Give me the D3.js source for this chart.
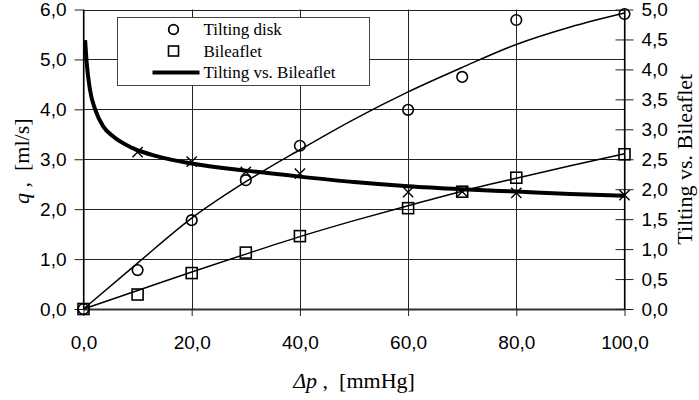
<!DOCTYPE html>
<html>
<head>
<meta charset="utf-8">
<script src="https://cdn.jsdelivr.net/npm/d3@7"></script>
<style>
  body { margin: 0; background: #fff; }
  svg { display: block; }
</style>
</head>
<body>
<script>
// measured points (delta p in mmHg, flow q in ml/s)
var pressure = [0, 10, 20, 30, 40, 60, 70, 80, 100];
var tiltingDisk = [0, 0.78, 1.78, 2.58, 3.27, 3.99, 4.65, 5.79, 5.91];
var bileaflet = [0, 0.29, 0.72, 1.13, 1.46, 2.02, 2.35, 2.63, 3.10];
var ratioP = [10, 20, 30, 40, 60, 70, 80, 100];
var ratio = [2.62, 2.46, 2.29, 2.26, 1.95, 1.96, 1.94, 1.90];

// trendlines
var fitP = [0, 10, 20, 30, 40, 50, 60, 70, 80, 90, 100];
var tiltingFit = [0, 0.92, 1.82, 2.55, 3.19, 3.80, 4.35, 4.84, 5.30, 5.65, 5.93];
var bileafletFit = [0, 0.37, 0.74, 1.10, 1.45, 1.77, 2.07, 2.36, 2.62, 2.87, 3.11];
var ratioFitP = [0.3, 0.6, 1.2, 2.2, 3.7, 5.5, 9, 14, 20, 30, 40, 50, 60, 70, 80, 90, 100];
var ratioFit = [4.49, 4.10, 3.66, 3.32, 3.04, 2.88, 2.69, 2.54, 2.43, 2.31, 2.21, 2.12, 2.05, 2.00, 1.96, 1.92, 1.89];

var xTicks = [0, 20, 40, 60, 80, 100];
var leftTicks = [0, 1, 2, 3, 4, 5, 6];
var rightTicks = [0, 0.5, 1, 1.5, 2, 2.5, 3, 3.5, 4, 4.5, 5];
var legendLabels = ["Tilting disk", "Bileaflet", "Tilting vs. Bileaflet"];

var width = 699, height = 400;

var x = d3.scaleLinear().domain([0, 100]).range([83.5, 624.5]);
var y = d3.scaleLinear().domain([0, 6]).range([309, 9.5]);
var y2 = d3.scaleLinear().domain([0, 5]).range([309, 9.5]);

var fmt = function(d) { return d3.format(".1f")(d).replace(".", ","); };

var svg = d3.select("body").append("svg")
    .attr("width", width)
    .attr("height", height);

// grid
svg.append("g").selectAll("line").data(leftTicks).join("line")
    .attr("x1", x(0)).attr("x2", x(100))
    .attr("y1", function(d) { return Math.round(y(d)) + 0.5; })
    .attr("y2", function(d) { return Math.round(y(d)) + 0.5; })
    .attr("stroke", "#222").attr("stroke-width", 1);
svg.append("g").selectAll("line").data(xTicks.slice(1, -1)).join("line")
    .attr("x1", function(d) { return Math.round(x(d)) + 0.5; })
    .attr("x2", function(d) { return Math.round(x(d)) + 0.5; })
    .attr("y1", y(0)).attr("y2", y(6))
    .attr("stroke", "#222").attr("stroke-width", 1);

// axes
var tickFont = "'Liberation Sans', Arial, sans-serif";

var gx = svg.append("g")
    .attr("transform", "translate(0," + y(0) + ")")
    .call(d3.axisBottom(x).tickValues(xTicks).tickFormat(fmt).tickSize(7).tickPadding(20).tickSizeOuter(0));
gx.select(".domain").attr("stroke", "#333").attr("stroke-width", 2);

var gl = svg.append("g")
    .attr("transform", "translate(" + x(0) + ",0)")
    .call(d3.axisLeft(y).tickValues(leftTicks).tickFormat(fmt).tickSize(9).tickPadding(8).tickSizeOuter(0));

var gr = svg.append("g")
    .attr("transform", "translate(" + x(100) + ",0)")
    .call(d3.axisRight(y2).tickValues(rightTicks).tickFormat(fmt).tickSize(9).tickPadding(8).tickSizeOuter(0));
gr.selectAll(".tick line").attr("x1", -9);

svg.selectAll(".tick text")
    .attr("font-family", tickFont)
    .attr("font-size", 19)
    .attr("fill", "#000");
svg.selectAll(".tick line").attr("stroke", "#222");

// series markers
var tiltPts = pressure.map(function(p, i) { return [p, tiltingDisk[i]]; });
var biPts = pressure.map(function(p, i) { return [p, bileaflet[i]]; });
var ratioPts = ratioP.map(function(p, i) { return [p, ratio[i]]; });

svg.append("g").selectAll("circle").data(tiltPts).join("circle")
    .attr("cx", function(d) { return x(d[0]); })
    .attr("cy", function(d) { return y(d[1]); })
    .attr("r", 5.3)
    .attr("fill", "none").attr("stroke", "#000").attr("stroke-width", 1.6);

svg.append("g").selectAll("rect").data(biPts).join("rect")
    .attr("x", function(d) { return x(d[0]) - 5.5; })
    .attr("y", function(d) { return y(d[1]) - 5.5; })
    .attr("width", 11).attr("height", 11)
    .attr("fill", "none").attr("stroke", "#000").attr("stroke-width", 1.6);

var cross = d3.symbol().type(d3.symbolX).size(70);
svg.append("g").selectAll("path").data(ratioPts).join("path")
    .attr("transform", function(d) { return "translate(" + x(d[0]) + "," + y2(d[1]) + ")"; })
    .attr("d", cross)
    .attr("fill", "none").attr("stroke", "#000").attr("stroke-width", 1.4);

// trendlines
var thinLine = function(sc) {
  return d3.line().curve(d3.curveMonotoneX)
      .x(function(d) { return x(d[0]); })
      .y(function(d) { return sc(d[1]); });
};

svg.append("path")
    .attr("d", thinLine(y)(fitP.map(function(p, i) { return [p, tiltingFit[i]]; })))
    .attr("fill", "none").attr("stroke", "#000").attr("stroke-width", 1.5);
svg.append("path")
    .attr("d", thinLine(y)(fitP.map(function(p, i) { return [p, bileafletFit[i]]; })))
    .attr("fill", "none").attr("stroke", "#000").attr("stroke-width", 1.5);
svg.append("path")
    .attr("d", thinLine(y2)(ratioFitP.map(function(p, i) { return [p, ratioFit[i]]; })))
    .attr("fill", "none").attr("stroke", "#000").attr("stroke-width", 4);

// axis lines on top
svg.append("line")
    .attr("x1", x(0)).attr("x2", x(0)).attr("y1", y(6)).attr("y2", y(0))
    .attr("stroke", "#000").attr("stroke-width", 1.2);
svg.append("line")
    .attr("x1", x(100)).attr("x2", x(100)).attr("y1", y(6)).attr("y2", y(0))
    .attr("stroke", "#000").attr("stroke-width", 1.2);

// titles
var serif = "'Liberation Serif', 'Times New Roman', serif";

var tx = svg.append("text")
    .attr("x", (x(0) + x(100)) / 2).attr("y", 388)
    .attr("text-anchor", "middle")
    .attr("font-family", serif).attr("font-size", 22)
    .style("white-space", "pre");
tx.append("tspan").attr("font-style", "italic").text("Δp");
tx.append("tspan").text(" ,  [mmHg]");

var tl = svg.append("text")
    .attr("transform", "translate(29," + (y(3) + 2) + ") rotate(-90)")
    .attr("text-anchor", "middle")
    .attr("font-family", serif).attr("font-size", 22)
    .style("white-space", "pre");
tl.append("tspan").attr("font-style", "italic").text("q");
tl.append("tspan").text(" ,  [ml/s]");

svg.append("text")
    .attr("transform", "translate(692," + (y(3) + 0) + ") rotate(-90)")
    .attr("text-anchor", "middle")
    .attr("font-family", serif).attr("font-size", 22)
    .text("Tilting vs. Bileaflet");

// legend
var lg = svg.append("g").attr("transform", "translate(117.5,17.5)");
lg.append("rect")
    .attr("width", 252).attr("height", 68)
    .attr("fill", "#fff").attr("stroke", "#444").attr("stroke-width", 1);

var rowY = [12, 33.5, 55];
lg.append("circle").attr("cx", 56).attr("cy", rowY[0]).attr("r", 4.8)
    .attr("fill", "none").attr("stroke", "#000").attr("stroke-width", 1.8);
lg.append("rect").attr("x", 51).attr("y", rowY[1] - 5).attr("width", 10).attr("height", 10)
    .attr("fill", "none").attr("stroke", "#000").attr("stroke-width", 1.6);
lg.append("line").attr("x1", 35).attr("x2", 82).attr("y1", rowY[2]).attr("y2", rowY[2])
    .attr("stroke", "#000").attr("stroke-width", 4);

lg.selectAll("text.leg").data(legendLabels).join("text")
    .attr("class", "leg")
    .attr("x", 86)
    .attr("y", function(d, i) { return rowY[i] + 5.5; })
    .attr("font-family", serif).attr("font-size", 17)
    .text(function(d) { return d; });
</script>
</body>
</html>
